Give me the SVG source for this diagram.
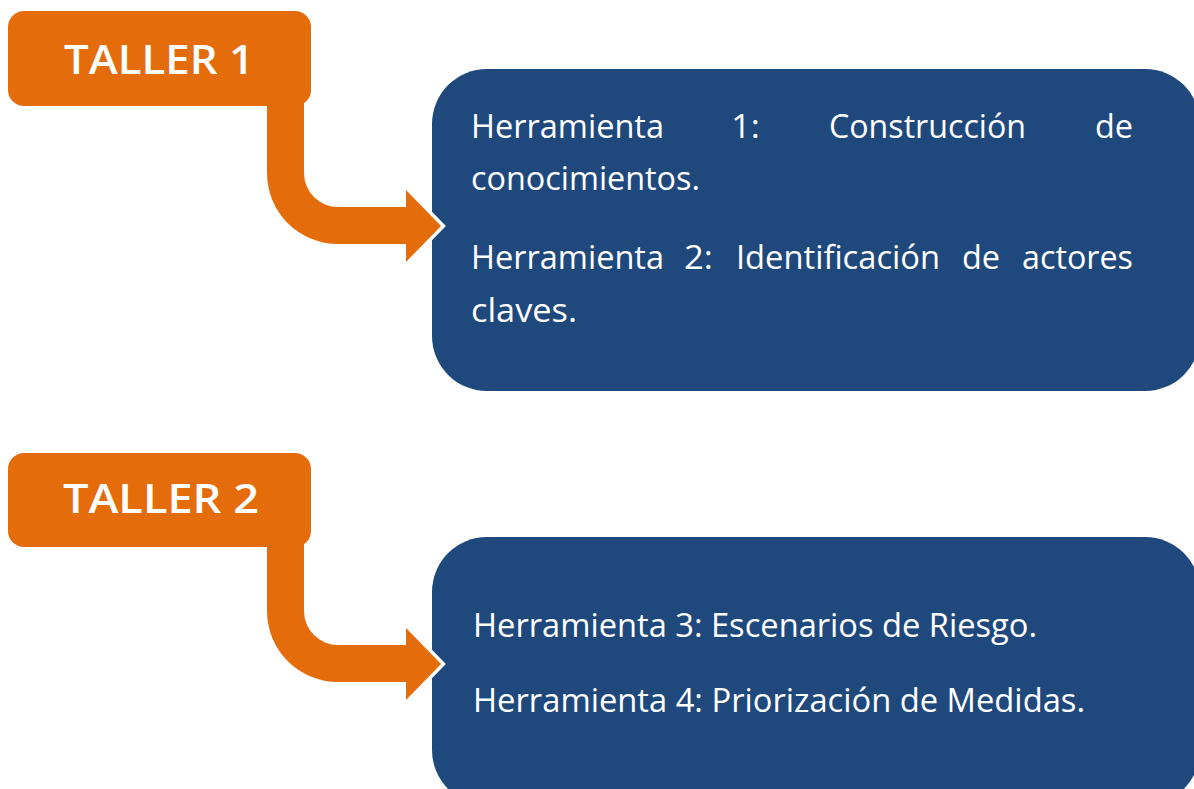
<svg xmlns="http://www.w3.org/2000/svg" width="1194" height="789" viewBox="0 0 1194 789">
<style>
.blue{fill:#1F497D}
.orange{fill:#E46C0A}
.arrow{fill:#E46C0A;stroke:#FFFFFF;stroke-width:7;stroke-linejoin:miter;stroke-miterlimit:10;paint-order:stroke}
.tt{font-family:"Open Sans","Noto Sans",sans-serif;font-weight:600;font-size:40px;fill:#FFFFFF}
.bt{font-family:"Open Sans","Noto Sans","Liberation Sans",sans-serif;font-size:33px;fill:#FFFFFF}
</style>
<rect width="1194" height="789" fill="#FFFFFF"/>
<g id="herramientas-1-2">
<rect class="blue" x="432" y="69" width="768" height="322" rx="55" ry="55"/>
<text class="bt" x="471" y="138" textLength="193" lengthAdjust="spacingAndGlyphs">Herramienta</text>
<text class="bt" x="731" y="138" textLength="29" lengthAdjust="spacingAndGlyphs">1:</text>
<text class="bt" x="829" y="138" textLength="197" lengthAdjust="spacingAndGlyphs">Construcción</text>
<text class="bt" x="1095" y="138" textLength="38" lengthAdjust="spacingAndGlyphs">de</text>
<text class="bt" x="471" y="190" textLength="229" lengthAdjust="spacingAndGlyphs">conocimientos.</text>
<text class="bt" x="471" y="269" textLength="193" lengthAdjust="spacingAndGlyphs">Herramienta</text>
<text class="bt" x="684" y="269" textLength="29" lengthAdjust="spacingAndGlyphs">2:</text>
<text class="bt" x="736" y="269" textLength="204" lengthAdjust="spacingAndGlyphs">Identificación</text>
<text class="bt" x="962" y="269" textLength="38" lengthAdjust="spacingAndGlyphs">de</text>
<text class="bt" x="1022" y="269" textLength="111" lengthAdjust="spacingAndGlyphs">actores</text>
<text class="bt" x="471" y="322" textLength="106" lengthAdjust="spacingAndGlyphs">claves.</text>
</g>
<g id="herramientas-3-4">
<rect class="blue" x="432" y="537" width="768" height="268" rx="55" ry="55"/>
<text class="bt" x="473" y="637" textLength="564" lengthAdjust="spacingAndGlyphs">Herramienta 3: Escenarios de Riesgo.</text>
<text class="bt" x="473" y="712" textLength="612" lengthAdjust="spacingAndGlyphs">Herramienta 4: Priorización de Medidas.</text>
</g>
<g id="connectors">
<path class="arrow" d="M267,100 L267,173 A71,71 0 0 0 338,244 L406,244 L406,262 L441,226 L406,190 L406,207 L338,207 A34,34 0 0 1 304,173 L304,100 Z"/>
<path class="arrow" d="M267,540 L267,611 A71,71 0 0 0 338,682 L406,682 L406,700 L441,664 L406,628 L406,645 L338,645 A34,34 0 0 1 304,611 L304,540 Z"/>
</g>
<g id="taller-1">
<rect class="orange" x="8" y="11" width="303" height="95" rx="16" ry="16"/>
<text class="tt" x="64" y="74" textLength="190" lengthAdjust="spacingAndGlyphs">TALLER 1</text>
</g>
<g id="taller-2">
<rect class="orange" x="8" y="453" width="303" height="94" rx="16" ry="16"/>
<text class="tt" x="63" y="513" textLength="196" lengthAdjust="spacingAndGlyphs">TALLER 2</text>
</g>
</svg>
